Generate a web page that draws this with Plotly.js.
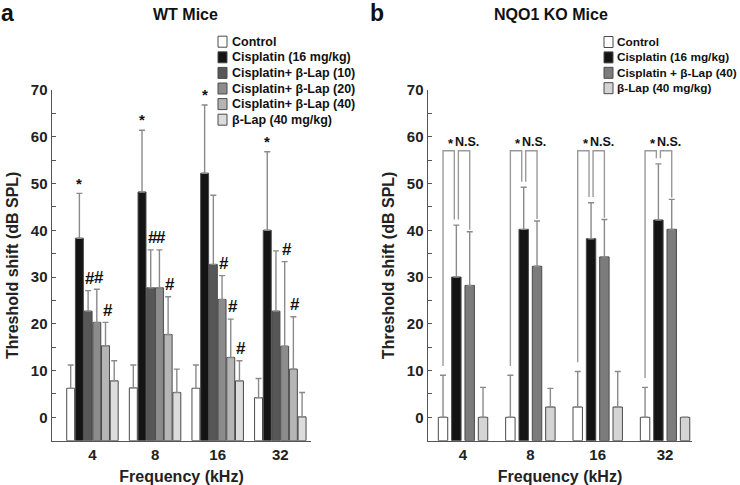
<!DOCTYPE html>
<html>
<head>
<meta charset="utf-8">
<script src="https://cdn.plot.ly/plotly-3.0.1.min.js"></script>
<style>
body { margin: 0; background: #fff; }
#chart { width: 740px; height: 485px; }
</style>
</head>
<body>
<div id="chart"></div>
<script>
// frequencies (x categories)
const freqs = ['4', '8', '16', '32'];

// panel a: WT mice
const wtNames = ['Control', 'Cisplatin (16 mg/kg)', 'Cisplatin+ β-Lap (10)', 'Cisplatin+ β-Lap (20)', 'Cisplatin+ β-Lap (40)', 'β-Lap (40 mg/kg)'];
const wtColors = ['#ffffff', '#141414', '#575757', '#8c8c8c', '#b5b5b5', '#dcdcdc'];
const wtMean = [
    [6.2, 6.3, 6.2, 4.2],
    [38.3, 48.2, 52.2, 40.0],
    [22.7, 27.7, 32.7, 22.7],
    [20.3, 27.7, 25.2, 15.2],
    [15.3, 17.7, 12.8, 10.3],
    [7.8, 5.3, 7.8, 0.1]
];
const wtSD = [
    [5.0, 4.9, 5.0, 4.1],
    [9.6, 13.2, 14.6, 16.8],
    [4.4, 8.1, 14.8, 12.9],
    [7.1, 8.1, 5.1, 18.1],
    [5.0, 8.1, 8.2, 11.2],
    [4.3, 5.0, 4.3, 5.2]
];
const wtMarks = [
    ['', '', '', ''],
    ['*', '*', '*', '*'],
    ['#', '#', '', ''],
    ['#', '#', '#', '#'],
    ['#', '#', '#', '#'],
    ['', '', '#', '']
];

// panel b: NQO1 KO mice
const koNames = ['Control', 'Cisplatin (16 mg/kg)', 'Cisplatin + β-Lap (40)', 'β-Lap (40 mg/kg)'];
const koColors = ['#ffffff', '#141414', '#7c7c7c', '#d4d4d4'];
const koMean = [
    [0, 0, 2.2, 0],
    [30.0, 40.2, 38.2, 42.2],
    [28.2, 32.3, 34.3, 40.2],
    [0, 2.2, 2.2, 0]
];
const koSD = [
    [9.0, 9.0, 7.6, 6.4],
    [11.1, 9.0, 7.7, 12.0],
    [11.5, 9.7, 8.0, 6.4],
    [6.4, 4.0, 7.6, 0]
];
const koStar = ['*', '*', '*', '*'];
const koNS = ['N.S.', 'N.S.', 'N.S.', 'N.S.'];

const FONT = 'Liberation Sans, Arial, Helvetica, sans-serif';
const FLOOR = -5;
const W = 740, H = 485;
const px = v => v / W;
const py = v => 1 - v / H;

const wtPitch = 0.139, wtWidth = 0.127;
const koPitch = 0.198, koWidth = 0.14;
const wtOff = i => (i - (wtNames.length - 1) / 2) * wtPitch;
const koOff = i => (i - (koNames.length - 1) / 2) * koPitch;

const traces = [];
const annotations = [];
const shapes = [];

function addBars(names, colors, mean, sd, off, width, xa, ya) {
    names.forEach((name, i) => {
        traces.push({
            type: 'bar',
            name: name,
            x: freqs.map((f, g) => g + off(i)),
            y: mean[i].map(v => v - FLOOR),
            base: FLOOR,
            width: width,
            xaxis: xa,
            yaxis: ya,
            marker: { color: colors[i], line: { color: '#4a4a4a', width: 1 } },
            error_y: {
                type: 'data', symmetric: false,
                array: sd[i], arrayminus: sd[i].map(() => 0),
                color: '#8a8a8a', thickness: 1.4, width: 3
            },
            showlegend: false,
            hoverinfo: 'skip'
        });
    });
}

addBars(wtNames, wtColors, wtMean, wtSD, wtOff, wtWidth, 'x', 'y');
addBars(koNames, koColors, koMean, koSD, koOff, koWidth, 'x2', 'y2');

// significance marks above WT bars
wtMarks.forEach((row, i) => {
    row.forEach((m, g) => {
        if (!m) return;
        annotations.push({
            xref: 'x', yref: 'y',
            x: g + wtOff(i), y: wtMean[i][g] + wtSD[i][g] + (m === '*' ? 2.2 : 2.6),
            text: m, showarrow: false, xshift: m === '#' ? 2 : 0,
            yanchor: 'middle',
            font: { family: FONT, size: m === '*' ? 15 : 17, weight: 'bold', color: '#111' }
        });
    });
});

// brackets in KO panel
const bracketTop = 57;
freqs.forEach((f, g) => {
    const xc = g + koOff(0), xs = g + koOff(1), xb = g + koOff(2);
    const d = 0.03;
    const top = i => koMean[i][g] + koSD[i][g];
    shapes.push({
        type: 'path', xref: 'x2', yref: 'y2',
        path: `M${xc},${top(0) + 2} L${xc},${bracketTop} L${xs - d},${bracketTop} L${xs - d},${top(1) + 1.2}`,
        line: { color: '#9a9a9a', width: 1.4 }
    });
    shapes.push({
        type: 'path', xref: 'x2', yref: 'y2',
        path: `M${xs + d},${top(1) + 1.2} L${xs + d},${bracketTop} L${xb},${bracketTop} L${xb},${top(2) + 0.4}`,
        line: { color: '#9a9a9a', width: 1.4 }
    });
    annotations.push({
        xref: 'x2', yref: 'y2', x: (xc + xs) / 2 + 0.02, y: bracketTop + 1.6,
        text: koStar[g], showarrow: false, yanchor: 'middle',
        font: { family: FONT, size: 13, weight: 'bold', color: '#111' }
    });
    annotations.push({
        xref: 'x2', yref: 'y2', x: (xs + xb) / 2 + 0.06, y: bracketTop + 1.8,
        text: koNS[g], showarrow: false, yanchor: 'middle',
        font: { family: FONT, size: 12.5, weight: 'bold', color: '#111' }
    });
});

// hand-placed legends (compact rows like the figure)
function addLegend(names, colors, boxX, textX, rowY, pitch, size) {
    names.forEach((name, i) => {
        const yc = rowY + i * pitch;
        shapes.push({
            type: 'rect', xref: 'paper', yref: 'paper',
            x0: px(boxX), x1: px(boxX + 9), y0: py(yc + 5.5), y1: py(yc - 5.5),
            fillcolor: colors[i], line: { color: '#4a4a4a', width: 1 }
        });
        annotations.push({
            xref: 'paper', yref: 'paper', x: px(textX), y: py(yc),
            xanchor: 'left', yanchor: 'middle', text: name, showarrow: false,
            font: { family: FONT, size: size, weight: 'bold', color: '#111' }
        });
    });
}
addLegend(wtNames, wtColors, 218, 230, 41.7, 15.6, 12.5);
addLegend(koNames, koColors, 604, 615, 42, 15.4, 11.8);

// panel letters and titles
[['a', 7, 13, 23], ['b', 377, 13, 23]].forEach(([t, x, y, s]) => {
    annotations.push({
        xref: 'paper', yref: 'paper', x: px(x), y: py(y), text: t, showarrow: false,
        xanchor: 'center', yanchor: 'middle',
        font: { family: FONT, size: s, weight: 'bold', color: '#111' }
    });
});
[['WT Mice', 185], ['NQO1 KO Mice', 551]].forEach(([t, x]) => {
    annotations.push({
        xref: 'paper', yref: 'paper', x: px(x), y: py(14), text: t, showarrow: false,
        xanchor: 'center', yanchor: 'middle',
        font: { family: FONT, size: 16, weight: 'bold', color: '#111' }
    });
});

const yDomain = [py(440.7), py(90)];
function yAxis(anchor) {
    return {
        anchor: anchor, domain: yDomain, range: [-5, 70],
        showline: true, linecolor: '#555', linewidth: 1.5,
        ticks: 'inside', ticklen: 4, tickcolor: '#555', tickwidth: 1,
        tick0: 0, dtick: 10,
        minor: { dtick: 5, tick0: 0, ticks: 'inside', ticklen: 4, tickcolor: '#555', tickwidth: 1 },
        showgrid: false, zeroline: false,
        tickfont: { family: FONT, size: 15, weight: 'bold', color: '#222' },
        title: { text: 'Threshold shift (dB SPL)', standoff: 8, font: { family: FONT, size: 16, weight: 'bold', color: '#222' } }
    };
}
function xAxis(anchor, domain, range) {
    return {
        anchor: anchor, domain: domain, range: range,
        showline: true, linecolor: '#555', linewidth: 1.5,
        tickmode: 'array', tickvals: freqs.map((f, g) => g), ticktext: freqs,
        ticks: '', showgrid: false, zeroline: false,
        tickfont: { family: FONT, size: 15, weight: 'bold', color: '#222' },
        title: { text: 'Frequency (kHz)', standoff: 8, font: { family: FONT, size: 16, weight: 'bold', color: '#222' } }
    };
}

const layout = {
    width: W, height: H,
    margin: { l: 0, r: 0, t: 0, b: 0 },
    paper_bgcolor: '#fff', plot_bgcolor: '#fff',
    barmode: 'overlay',
    showlegend: false,
    xaxis: xAxis('y', [px(52), px(311)], [-0.646, 3.49]),
    yaxis: yAxis('x'),
    xaxis2: xAxis('y2', [px(428), px(692)], [-0.52, 3.40]),
    yaxis2: yAxis('x2'),
    annotations: annotations,
    shapes: shapes
};

Plotly.newPlot('chart', traces, layout, { displayModeBar: false, staticPlot: true });
</script>
</body>
</html>
